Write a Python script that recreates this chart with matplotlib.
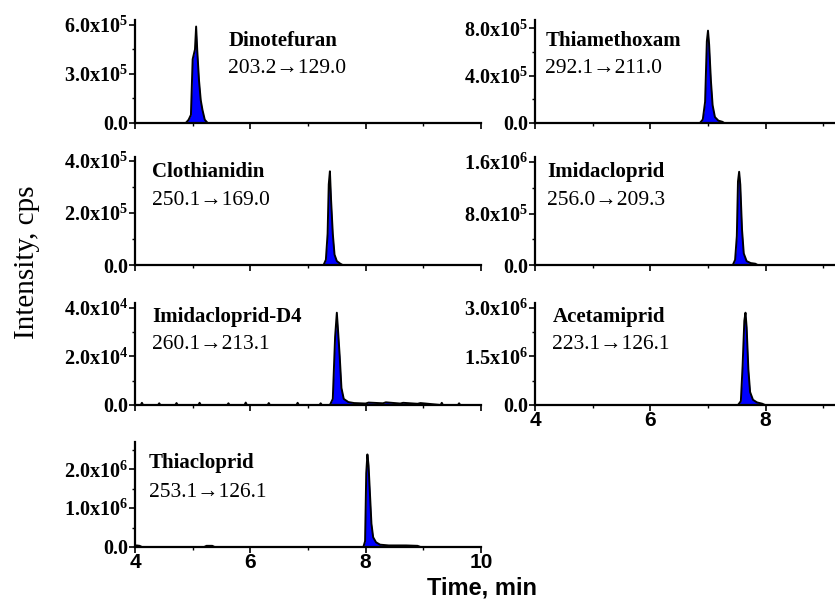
import matplotlib

matplotlib.use("Agg")
import matplotlib.pyplot as plt
from matplotlib.ticker import AutoMinorLocator, FixedLocator, FuncFormatter


# retention time (min) / intensity (cps)
DINOTEFURAN_T = [4.00, 4.88, 4.93, 4.97, 5.00, 5.04, 5.06, 5.08, 5.11, 5.14, 5.17, 5.21, 5.26, 10.0]
DINOTEFURAN_I = [0, 0, 2e4, 5e4, 3.9e5, 4.5e5, 5.9e5, 4.4e5, 2.6e5, 1.4e5, 8e4, 2e4, 0, 0]

THIAMETHOXAM_T = [4.00, 6.86, 6.91, 6.95, 6.98, 7.00, 7.02, 7.05, 7.08, 7.12, 7.18, 7.25, 7.28, 10.0]
THIAMETHOXAM_I = [0, 0, 3e4, 1.8e5, 6.9e5, 7.8e5, 6.6e5, 3.6e5, 1.5e5, 5e4, 2e4, 1e4, 0, 0]

CLOTHIANIDIN_T = [4.00, 7.27, 7.31, 7.34, 7.36, 7.38, 7.40, 7.43, 7.46, 7.50, 7.56, 7.60, 10.0]
CLOTHIANIDIN_I = [0, 0, 2e4, 1.2e5, 3.1e5, 3.6e5, 2.5e5, 1.2e5, 4e4, 1.5e4, 5e3, 0, 0]

IMIDACLOPRID_T = [4.00, 7.43, 7.47, 7.50, 7.52, 7.54, 7.56, 7.59, 7.62, 7.67, 7.74, 7.82, 7.86, 10.0]
IMIDACLOPRID_I = [0, 0, 8e4, 4.5e5, 1.3e6, 1.45e6, 1.25e6, 5.5e5, 1.8e5, 6e4, 3e4, 2e4, 0, 0]

IMIDACLOPRID_D4_T = [4.00, 4.10, 4.12, 4.14, 4.40, 4.42, 4.44, 4.70, 4.72, 4.74, 5.10, 5.12, 5.14,
                     5.60, 5.62, 5.64, 5.90, 5.92, 5.94, 6.30, 6.32, 6.34, 6.80, 6.82, 6.84, 7.20,
                     7.22, 7.24, 7.38, 7.43, 7.47, 7.50, 7.52, 7.55, 7.58, 7.62, 7.70, 7.80, 8.00,
                     8.05, 8.30, 8.35, 8.60, 8.65, 8.90, 8.95, 9.30, 9.32, 9.34, 9.60, 9.62, 9.64,
                     10.0]
IMIDACLOPRID_D4_I = [0, 0, 900, 0, 0, 700, 0, 0, 800, 0, 0, 900, 0, 0, 700, 0, 0, 1000, 0, 0,
                     800, 0, 0, 900, 0, 0, 700, 0, 0, 2500, 2.8e4, 3.8e4, 3.1e4, 2.0e4, 7000, 2500,
                     1200, 800, 600, 1000, 700, 1100, 600, 900, 500, 800, 0, 900, 0, 0, 700, 0, 0]

ACETAMIPRID_T = [4.00, 7.52, 7.57, 7.60, 7.63, 7.65, 7.67, 7.70, 7.73, 7.78, 7.85, 7.94, 7.99, 10.0]
ACETAMIPRID_I = [0, 0, 1.2e5, 1.2e6, 2.6e6, 2.85e6, 2.4e6, 1.1e6, 4e5, 1.6e5, 8e4, 4e4, 0, 0]

THIACLOPRID_T = [4.00, 4.03, 4.08, 4.12, 5.20, 5.24, 5.34, 5.38, 7.96, 7.99, 8.01, 8.03, 8.05,
                 8.07, 8.10, 8.13, 8.18, 8.25, 8.40, 8.70, 8.90, 8.95, 10.0]
THIACLOPRID_I = [3e4, 4e4, 3e4, 0, 0, 3e4, 3e4, 0, 0, 1.5e5, 1.9e6, 2.38e6, 2.1e6, 1.5e6, 6e5,
                 2.5e5, 1.2e5, 6e4, 4e4, 4e4, 3e4, 0, 0]

COMPOUNDS = ["Dinotefuran", "Thiamethoxam", "Clothianidin", "Imidacloprid",
             "Imidacloprid-D4", "Acetamiprid", "Thiacloprid"]
TRANSITIONS = ["203.2\u2192129.0", "292.1\u2192211.0", "250.1\u2192169.0", "256.0\u2192209.3",
               "260.1\u2192213.1", "223.1\u2192126.1", "253.1\u2192126.1"]
Y_TICKS = [
    [0, 3e5, 6e5],
    [0, 4e5, 8e5],
    [0, 2e5, 4e5],
    [0, 8e5, 1.6e6],
    [0, 2e4, 4e4],
    [0, 1.5e6, 3e6],
    [0, 1e6, 2e6],
]
Y_TOP = [6.3e5, 8.7e5, 4.15e5, 1.68e6, 4.2e4, 3.15e6, 2.7e6]
X_TICKS_LEFT = [4, 6, 8, 10]
X_TICKS_RIGHT = [4, 6, 8]

SERIES = [
    (DINOTEFURAN_T, DINOTEFURAN_I),
    (THIAMETHOXAM_T, THIAMETHOXAM_I),
    (CLOTHIANIDIN_T, CLOTHIANIDIN_I),
    (IMIDACLOPRID_T, IMIDACLOPRID_I),
    (IMIDACLOPRID_D4_T, IMIDACLOPRID_D4_I),
    (ACETAMIPRID_T, ACETAMIPRID_I),
    (THIACLOPRID_T, THIACLOPRID_I),
]

plt.rcParams["mathtext.fontset"] = "custom"
plt.rcParams["mathtext.rm"] = "Liberation Serif:bold"
plt.rcParams["mathtext.it"] = "Liberation Serif:bold"
plt.rcParams["mathtext.bf"] = "Liberation Serif:bold"
plt.rcParams["mathtext.default"] = "rm"

SERIF = ["Liberation Serif", "DejaVu Serif"]
SANS = ["Liberation Sans Narrow", "Liberation Sans", "DejaVu Sans"]

W, H = 835, 602
COL_X = [135, 535]
COL_W = 346
ROWS = [(20, 123), (157, 265), (303, 405), (442, 547)]
TEXT_Y = [(0.80, 0.53), (0.80, 0.53), (0.86, 0.60), (0.86, 0.60), (0.86, 0.59), (0.86, 0.59), (0.80, 0.52)]
TEXT_X = [0.27, 0.03, 0.05, 0.035, 0.05, 0.05, 0.04]


def sci_label(value, _pos=None):
    if value == 0:
        return "0.0"
    exponent = len(str(int(value))) - 1
    mantissa = value / 10 ** exponent
    return f"{mantissa:.1f}x10$^{{{exponent}}}$"


fig = plt.figure(figsize=(W / 100, H / 100), dpi=100)

for idx, (times, values) in enumerate(SERIES):
    row, col = divmod(idx, 2)
    top, bottom = ROWS[row]
    axis = fig.add_axes([COL_X[col] / W, 1 - bottom / H, COL_W / W, (bottom - top) / H])
    axis.fill_between(times, values, 0, color="#0000ff", linewidth=0)
    axis.plot(times, values, color="black", linewidth=1.4)
    axis.set_xlim(4, 10)
    axis.set_ylim(0, Y_TOP[idx])
    axis.patch.set_alpha(0)

    for side in ("top", "right"):
        axis.spines[side].set_visible(False)
    for side in ("left", "bottom"):
        axis.spines[side].set_linewidth(1.6)

    axis.xaxis.set_major_locator(FixedLocator(X_TICKS_RIGHT if col else X_TICKS_LEFT))
    axis.xaxis.set_minor_locator(AutoMinorLocator(2))
    axis.yaxis.set_major_locator(FixedLocator(Y_TICKS[idx]))
    axis.yaxis.set_minor_locator(AutoMinorLocator(2))
    axis.yaxis.set_major_formatter(FuncFormatter(sci_label))
    axis.tick_params(which="major", direction="out", length=4, width=1.2, pad=1)
    axis.tick_params(which="minor", direction="out", length=2.5, width=1.0)

    show_x = idx in (5, 6)
    axis.tick_params(axis="x", labelbottom=show_x, labelsize=15, pad=0)
    for label in axis.get_xticklabels():
        label.set_fontfamily(SANS)
        label.set_fontweight("bold")
    for label in axis.get_yticklabels():
        label.set_fontfamily(SERIF)
        label.set_fontweight("bold")
        label.set_fontsize(14.5)

    axis.text(TEXT_X[idx], TEXT_Y[idx][0], COMPOUNDS[idx], transform=axis.transAxes,
              fontsize=15, fontweight="bold", family=SERIF, va="center")
    axis.text(TEXT_X[idx], TEXT_Y[idx][1], TRANSITIONS[idx], transform=axis.transAxes,
              fontsize=15.5, family=SERIF, va="center")

fig.text(27 / W, 1 - 262 / H, "Intensity, cps", rotation=90, va="center", ha="center",
         fontsize=21, family=SERIF)
fig.text(482 / W, 1 - 588 / H, "Time, min", va="center", ha="center",
         fontsize=17, fontweight="bold", family=SANS)

fig.savefig("out.png", dpi=100)
